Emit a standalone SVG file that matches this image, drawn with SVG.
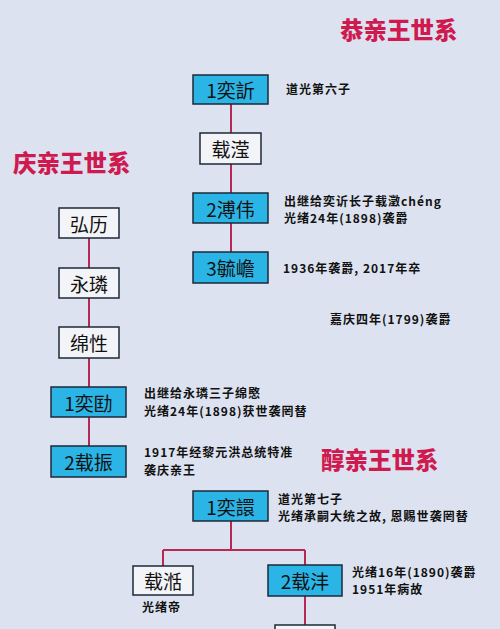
<svg xmlns="http://www.w3.org/2000/svg" width="500" height="629" viewBox="0 0 500 629">
<style>
.bg{fill:#dce2ef}
.title{font-family:"Noto Sans CJK SC",sans-serif;font-size:23.5px;font-weight:900;fill:#cf1a4f}
.blue{fill:#2ab5e6;stroke:#1c2a3a;stroke-width:1.5}
.white{fill:#f3f4f7;stroke:#1c2a3a;stroke-width:1.5}
.lbl{font-family:"Noto Sans CJK SC",sans-serif;font-size:19px;fill:#111;text-anchor:middle;dominant-baseline:central}
.note{font-family:"Noto Sans CJK SC",sans-serif;font-size:12px;letter-spacing:1px;font-weight:bold;fill:#111}
.conn{fill:none;stroke:#b52a52;stroke-width:2}
</style>
<rect class="bg" x="0" y="0" width="500" height="629"/>
<text class="title" x="340" y="39">恭亲王世系</text>
<text class="title" x="13" y="172">庆亲王世系</text>
<text class="title" x="321" y="469">醇亲王世系</text>
<g id="connectors">
<path class="conn" d="M231 104V133M231 164V193M231 223V252"/>
<path class="conn" d="M89 238V268M89 298V327M89 358V387M89 417V446"/>
<path class="conn" d="M231 521V550M163 550H305M163 550V566M305 550V565M305 596V625"/>
</g>
<g id="n-yixin"><rect class="blue" x="193" y="75" width="75" height="29"/><text class="lbl" x="230.5" y="89.5">1奕訢</text></g>
<text class="note" x="286" y="93.5">道光第六子</text>
<g id="n-zaiying"><rect class="white" x="200" y="133" width="61" height="31"/><text class="lbl" x="230.5" y="148.5">载滢</text></g>
<g id="n-puwei"><rect class="blue" x="193" y="193" width="75" height="30"/><text class="lbl" x="230.5" y="208">2溥伟</text></g>
<text class="note"><tspan x="284" y="205.5">出继给奕䜣长子载澂chéng</tspan><tspan x="284" y="223">光绪24年(1898)袭爵</tspan></text>
<g id="n-yuzhan"><rect class="blue" x="193" y="252" width="75" height="31"/><text class="lbl" x="230.5" y="267.5">3毓嶦</text></g>
<text class="note" x="283" y="272.5">1936年袭爵, 2017年卒</text>
<g id="n-hongli"><rect class="white" x="59" y="208" width="60" height="30"/><text class="lbl" x="89" y="223">弘历</text></g>
<g id="n-yonglin"><rect class="white" x="59" y="268" width="60" height="30"/><text class="lbl" x="89" y="283">永璘</text></g>
<g id="n-mianxing"><rect class="white" x="59" y="327" width="60" height="31"/><text class="lbl" x="89" y="342.5">绵性</text></g>
<text class="note" x="330" y="323.5">嘉庆四年(1799)袭爵</text>
<g id="n-yikuang"><rect class="blue" x="51" y="387" width="75" height="30"/><text class="lbl" x="88.5" y="402">1奕劻</text></g>
<text class="note"><tspan x="144" y="398">出继给永璘三子绵愍</tspan><tspan x="144" y="415.5">光绪24年(1898)获世袭罔替</tspan></text>
<g id="n-zaizhen"><rect class="blue" x="51" y="446" width="75" height="31"/><text class="lbl" x="88.5" y="461.5">2载振</text></g>
<text class="note"><tspan x="144" y="457">1917年经黎元洪总统特准</tspan><tspan x="144" y="474.5">袭庆亲王</tspan></text>
<g id="n-yixuan"><rect class="blue" x="193" y="491" width="75" height="30"/><text class="lbl" x="230.5" y="506">1奕譞</text></g>
<text class="note"><tspan x="278" y="503.5">道光第七子</tspan><tspan x="278" y="521">光绪承嗣大统之故, 恩赐世袭罔替</tspan></text>
<g id="n-zaitian"><rect class="white" x="133" y="566" width="60" height="29"/><text class="lbl" x="163" y="580.5">载湉</text></g>
<text class="note" x="142" y="611.5">光绪帝</text>
<g id="n-zaifeng"><rect class="blue" x="268" y="565" width="74" height="31"/><text class="lbl" x="305" y="580.5">2载沣</text></g>
<text class="note"><tspan x="352" y="576.5">光绪16年(1890)袭爵</tspan><tspan x="352" y="594">1951年病故</tspan></text>
<g id="n-next"><rect class="white" x="275" y="625" width="60" height="20"/></g>
</svg>
